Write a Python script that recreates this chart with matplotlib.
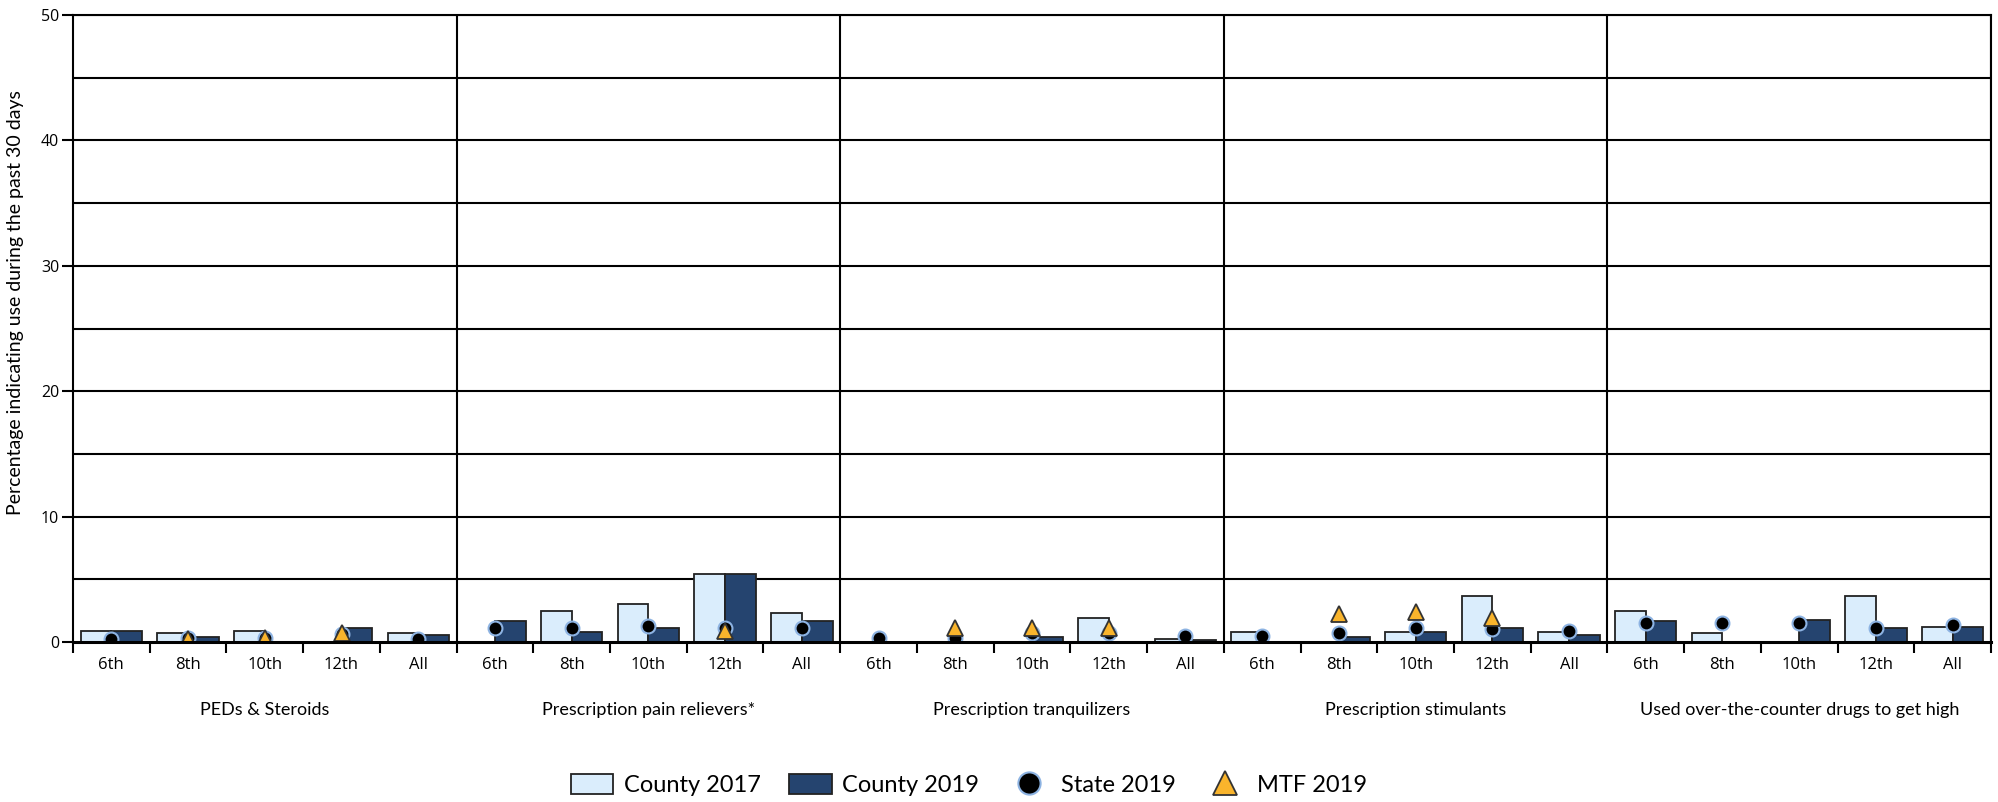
import numpy as np
import matplotlib
matplotlib.use("Agg")
import matplotlib.pyplot as plt
import matplotlib.transforms as mtransforms
from matplotlib.patches import Patch
from matplotlib.lines import Line2D

nan = np.nan

# Categories and panels
grades = ["6th", "8th", "10th", "12th", "All"]
panels = ["PEDs & Steroids", "Prescription pain relievers*", "Prescription tranquilizers",
          "Prescription stimulants", "Used over-the-counter drugs to get high"]

# Values (percent), one row of five per panel
county_2017 = [0.85, 0.7, 0.85, nan, 0.7,
               nan, 2.45, 3.0, 5.45, 2.35,
               nan, nan, nan, 1.9, 0.27,
               0.82, nan, 0.82, 3.7, 0.82,
               2.45, 0.7, nan, 3.7, 1.22]
county_2019 = [0.85, 0.4, nan, 1.1, 0.55,
               1.65, 0.82, 1.1, 5.45, 1.65,
               nan, nan, 0.4, nan, 0.16,
               nan, 0.4, 0.82, 1.1, 0.55,
               1.65, nan, 1.78, 1.1, 1.22]
state_2019 = [0.27, 0.3, 0.3, 0.6, 0.27,
              1.1, 1.12, 1.28, 1.1, 1.12,
              0.29, 0.29, 0.69, 0.69, 0.48,
              0.48, 0.69, 1.14, 1.04, 0.88,
              1.49, 1.49, 1.49, 1.1, 1.36]
mtf_2019 = [nan, 0.25, 0.35, 0.7, nan,
            nan, nan, nan, 0.9, nan,
            nan, 1.14, 1.14, 1.14, nan,
            nan, 2.2, 2.4, 1.9, nan,
            nan, nan, nan, nan, nan]

light = "#DAEDFC"
dark = "#25446F"
dot_edge = "#8DB3E2"
orange = "#F9B42C"

narrow = ["Lato", "DejaVu Sans"]
regular = ["Open Sans", "DejaVu Sans"]

fig = plt.figure(figsize=(19.99, 8.02), dpi=100)
ax = fig.add_axes([73 / 1999, (802 - 642) / 802, (1991 - 73) / 1999, (642 - 15) / 802])

n = len(county_2017)
x = np.arange(n) + 0.5
w = 0.4

# gridlines
for g in range(5, 51, 5):
    ax.axhline(g, color="black", lw=1.5, zorder=1)

ax.bar(x - w / 2, county_2017, width=w, color=light, edgecolor="#222222", lw=1.3, zorder=2)
ax.bar(x + w / 2, county_2019, width=w, color=dark, edgecolor="#222222", lw=1.3, zorder=2)
ax.plot(x, state_2019, "o", ms=10, mfc="black", mec=dot_edge, mew=1.5, zorder=4)
ax.plot(x, mtf_2019, "^", ms=11, mfc=orange, mec="#333333", mew=1.3, zorder=5)

# panel separators
for p in range(1, len(panels) + 1):
    ax.axvline(p * 5, color="black", lw=1.5, zorder=3)

ax.set_xlim(0, n)
ax.set_ylim(0, 50)
ax.set_yticks(range(0, 51, 10))
ax.set_yticklabels([str(v) for v in range(0, 51, 10)], family=regular, fontsize=11.5)
ax.tick_params(axis="y", length=8, width=1.5, pad=2)
ax.set_xticks(np.arange(0, n + 1), minor=True)
ax.set_xticks([])
ax.tick_params(axis="x", which="minor", length=8, width=1.5, direction="out")

for s in ["left", "right", "top"]:
    ax.spines[s].set_linewidth(1.5)
ax.spines["bottom"].set_linewidth(2.2)
ax.spines["bottom"].set_zorder(6)

trans = mtransforms.blended_transform_factory(ax.transData, ax.transAxes)
for i in range(n):
    ax.text(x[i], -0.037, grades[i % 5], transform=trans, ha="center", va="center",
            family=regular, fontsize=12)
for p, name in enumerate(panels):
    ax.text(p * 5 + 2.5, -0.109, name, transform=trans, ha="center", va="center",
            family=narrow, fontsize=13)

fig.text(16 / 1999, 1 - 303 / 802, "Percentage indicating use during the past 30 days",
         rotation=90, ha="center", va="center", family=narrow, fontsize=14)

handles = [
    Patch(facecolor=light, edgecolor="#222222", lw=1.3, label="County 2017"),
    Patch(facecolor=dark, edgecolor="#222222", lw=1.3, label="County 2019"),
    Line2D([], [], ls="none", marker="o", ms=16, mfc="black", mec=dot_edge, mew=1.5, label="State 2019"),
    Line2D([], [], ls="none", marker="^", ms=17, mfc=orange, mec="#333333", mew=1.3, label="MTF 2019"),
]
fig.legend(handles=handles, loc="center", bbox_to_anchor=(969 / 1999, 1 - 785 / 802), ncol=4,
           frameon=False, prop={"family": narrow, "size": 17}, handlelength=1.8,
           handleheight=0.95, handletextpad=0.45, columnspacing=1.2)

fig.savefig("out.png", dpi=100)
